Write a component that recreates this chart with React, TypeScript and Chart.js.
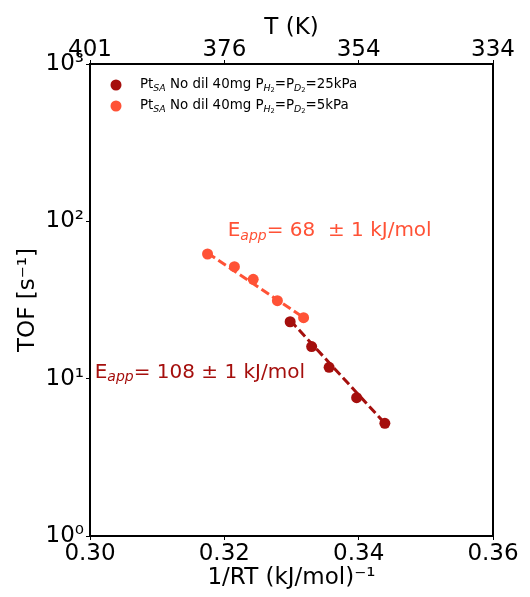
import React, { useEffect, useRef } from "react";
import { Chart, registerables } from "chart.js";

Chart.register(...registerables);

// ---- data ----
const series25kPaX = [0.3298, 0.333, 0.3356, 0.3397, 0.3439];
const series25kPaY = [23.0, 16.0, 11.8, 7.57, 5.2];
const series5kPaX = [0.3175, 0.3215, 0.3243, 0.3279, 0.3318];
const series5kPaY = [62.0, 51.5, 42.8, 31.3, 24.4];
const fit25kPaX = [0.3298, 0.3439];
const fit25kPaY = [23.5, 5.2];
const fit5kPaX = [0.3175, 0.3318];
const fit5kPaY = [63.0, 24.5];

const bottomTickValues = [0.3, 0.32, 0.34, 0.36];
const bottomTickLabels = ["0.30", "0.32", "0.34", "0.36"];
const topTickLabels = ["401", "376", "354", "334"];
const yTickValues = [1, 10, 100, 1000];
const yTickLabels = ["10\u2070", "10\u00b9", "10\u00b2", "10\u00b3"];

const DARK = "#a50f0d";
const LIGHT = "#ff5236";
const FONT = "'DejaVu Sans', sans-serif";

type Seg = { t: string; scale?: number; dy?: number; italic?: boolean };

function drawRich(ctx: CanvasRenderingContext2D, x: number, y: number, size: number, segs: Seg[], color: string) {
  ctx.save();
  ctx.fillStyle = color;
  ctx.textBaseline = "middle";
  ctx.textAlign = "left";
  let cx = x;
  for (const s of segs) {
    const sz = size * (s.scale ?? 1);
    ctx.font = `${s.italic ? "italic " : ""}${sz}px ${FONT}`;
    ctx.fillText(s.t, cx, y + (s.dy ?? 0) * size);
    cx += ctx.measureText(s.t).width;
  }
  ctx.restore();
}

function legendSegs(p: string): Seg[] {
  return [
    { t: "Pt" },
    { t: "SA", scale: 0.7, dy: 0.25, italic: true },
    { t: " No dil 40mg P" },
    { t: "H", scale: 0.7, dy: 0.25, italic: true },
    { t: "2", scale: 0.5, dy: 0.4 },
    { t: "=P" },
    { t: "D", scale: 0.7, dy: 0.25, italic: true },
    { t: "2", scale: 0.5, dy: 0.4 },
    { t: `=${p}kPa` },
  ];
}

const overlayPlugin = {
  id: "overlay",
  afterDatasetsDraw(chart: any) {
    const { ctx, chartArea, scales } = chart;
    // frame
    ctx.save();
    ctx.strokeStyle = "#000";
    ctx.lineWidth = 2;
    ctx.strokeRect(chartArea.left, chartArea.top, chartArea.right - chartArea.left, chartArea.bottom - chartArea.top);
    ctx.restore();

    // legend
    const lx = chartArea.left + 26;
    const rows = [
      { c: DARK, p: "25", y: chartArea.top + 21 },
      { c: LIGHT, p: "5", y: chartArea.top + 42 },
    ];
    for (const r of rows) {
      ctx.save();
      ctx.fillStyle = r.c;
      ctx.beginPath();
      ctx.arc(lx, r.y, 5.5, 0, Math.PI * 2);
      ctx.fill();
      ctx.restore();
      drawRich(ctx, lx + 24, r.y, 13.4, legendSegs(r.p), "#000");
    }

    // annotations
    const x = scales.x;
    const y = scales.y;
    drawRich(ctx, x.getPixelForValue(0.3205), y.getPixelForValue(86.8), 20, [
      { t: "E" },
      { t: "app", scale: 0.7, dy: 0.25, italic: true },
      { t: "= 68  \u00b1 1 kJ/mol" },
    ], LIGHT);
    drawRich(ctx, x.getPixelForValue(0.3007), y.getPixelForValue(10.9), 20, [
      { t: "E" },
      { t: "app", scale: 0.7, dy: 0.25, italic: true },
      { t: "= 108 \u00b1 1 kJ/mol" },
    ], DARK);
  },
};

export default function App() {
  const ref = useRef<HTMLCanvasElement>(null);
  useEffect(() => {
    document.body.style.margin = "0";
    const toPts = (xs: number[], ys: number[]) => xs.map((v, i) => ({ x: v, y: ys[i] }));
    const tickFont = { family: FONT, size: 23 };
    const titleFont = { family: FONT, size: 23 };
    const chart = new Chart(ref.current!, {
      type: "scatter",
      data: {
        datasets: [
          {
            label: "fit25",
            data: toPts(fit25kPaX, fit25kPaY),
            showLine: true,
            borderColor: DARK,
            borderWidth: 3,
            borderDash: [9, 4],
            pointRadius: 0,
            order: 3,
          },
          {
            label: "fit5",
            data: toPts(fit5kPaX, fit5kPaY),
            showLine: true,
            borderColor: LIGHT,
            borderWidth: 3,
            borderDash: [9, 4],
            pointRadius: 0,
            order: 3,
          },
          {
            label: "25kPa",
            data: toPts(series25kPaX, series25kPaY),
            backgroundColor: DARK,
            borderColor: DARK,
            pointRadius: 5.5,
            borderWidth: 0,
            order: 1,
          },
          {
            label: "5kPa",
            data: toPts(series5kPaX, series5kPaY),
            backgroundColor: LIGHT,
            borderColor: LIGHT,
            pointRadius: 5.5,
            borderWidth: 0,
            order: 1,
          },
        ],
      },
      options: {
        animation: false,
        responsive: false,
        layout: { padding: { left: 0, right: 37, top: 0, bottom: 0 } },
        plugins: { legend: { display: false }, tooltip: { enabled: false } },
        scales: {
          x: {
            type: "linear",
            position: "bottom",
            min: 0.3,
            max: 0.36,
            afterBuildTicks: (s: any) => { s.ticks = bottomTickValues.map((v) => ({ value: v })); },
            afterFit: (s: any) => { s.height = 61; },
            ticks: {
              font: tickFont,
              color: "#000",
              padding: 0,
              maxRotation: 0,
              autoSkip: false,
              callback: (_v: any, i: number) => bottomTickLabels[i],
            },
            grid: { drawOnChartArea: false, tickLength: 4, color: "#000", tickWidth: 1 },
            border: { display: false },
            title: { display: true, text: "1/RT (kJ/mol)\u207b\u00b9", font: titleFont, color: "#000", padding: { top: 0, bottom: 5 } },
          },
          x2: {
            type: "linear",
            position: "top",
            min: 0.3,
            max: 0.36,
            afterBuildTicks: (s: any) => { s.ticks = bottomTickValues.map((v) => ({ value: v })); },
            afterFit: (s: any) => { s.height = 64; },
            ticks: {
              font: tickFont,
              color: "#000",
              padding: -4,
              maxRotation: 0,
              autoSkip: false,
              callback: (_v: any, i: number) => topTickLabels[i],
            },
            grid: { drawOnChartArea: false, tickLength: 4, color: "#000", tickWidth: 1 },
            border: { display: false },
            title: { display: true, text: "T (K)", font: titleFont, color: "#000", padding: { top: 14, bottom: 0 } },
          },
          y: {
            type: "logarithmic",
            min: 1,
            max: 1000,
            afterBuildTicks: (s: any) => { s.ticks = yTickValues.map((v) => ({ value: v })); },
            afterFit: (s: any) => { s.width = 90; },
            ticks: {
              font: tickFont,
              color: "#000",
              padding: 2,
              autoSkip: false,
              callback: (_v: any, i: number) => yTickLabels[i],
            },
            grid: { drawOnChartArea: false, tickLength: 4, color: "#000", tickWidth: 1 },
            border: { display: false },
            title: { display: true, text: "TOF [s\u207b\u00b9]", font: titleFont, color: "#000", padding: { top: 14, bottom: 0 } },
          },
        },
      },
      plugins: [overlayPlugin],
    } as any);
    return () => chart.destroy();
  }, []);
  return <canvas ref={ref} width={530} height={597} style={{ display: "block" }} />;
}
